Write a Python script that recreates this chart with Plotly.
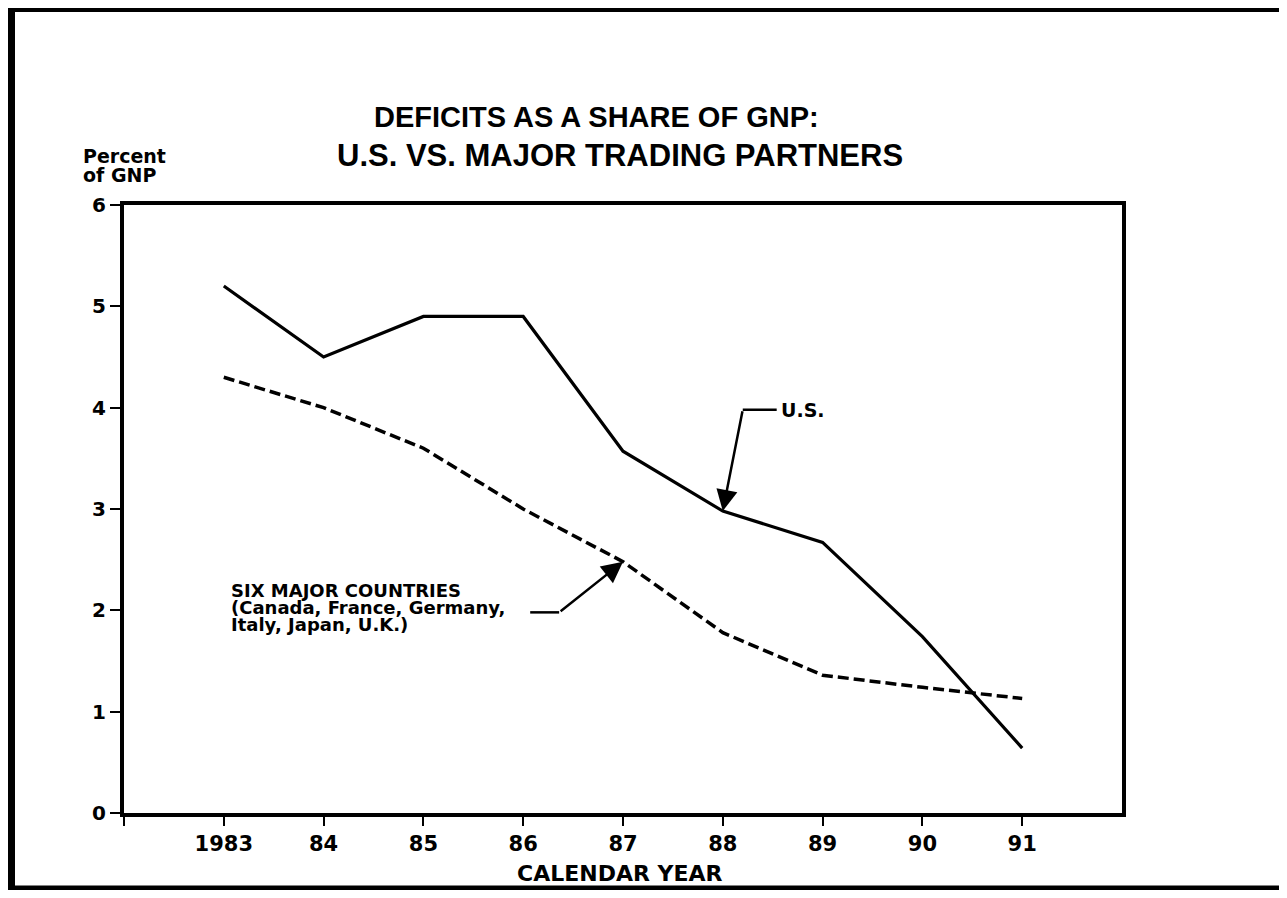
import plotly.graph_objects as go

# ---- data ----
years = [1983, 1984, 1985, 1986, 1987, 1988, 1989, 1990, 1991]
us_deficit = [5.2, 4.5, 4.9, 4.9, 3.57, 2.98, 2.67, 1.74, 0.64]
six_deficit = [4.3, 4.0, 3.6, 3.0, 2.48, 1.78, 1.36, 1.24, 1.13]
x_tickvals = [1982, 1983, 1984, 1985, 1986, 1987, 1988, 1989, 1990, 1991]
x_ticktext = ["", "1983", "84", "85", "86", "87", "88", "89", "90", "91"]
y_tickvals = [0, 1, 2, 3, 4, 5, 6]

# page has an 8px body margin; figure sized to fit the window
OFF = 8
W, H = 1287 - OFF, 898 - 2 * OFF
# plot area in screen pixels
L, R, T, B = 124, 1122, 205, 813


def px(x):
    return (x - L) / (R - L)


def py(y):
    return (B - y) / (B - T)


BOLD = "DejaVu Sans"

fig = go.Figure()
fig.add_trace(go.Scatter(x=years, y=us_deficit, mode="lines",
                         line=dict(color="black", width=3.2), name="U.S."))
fig.add_trace(go.Scatter(x=years, y=six_deficit, mode="lines",
                         line=dict(color="black", width=3.5, dash="11px,5px"),
                         name="Six major countries"))

ann = []
# titles
ann.append(dict(x=px(596), y=py(117), xref="paper", yref="paper", showarrow=False,
                text="DEFICITS AS A SHARE OF GNP:", xanchor="center", yanchor="middle",
                font=dict(family="Liberation Sans", size=29, color="black", weight="bold")))
ann.append(dict(x=px(620), y=py(155), xref="paper", yref="paper", showarrow=False,
                text="U.S. VS. MAJOR TRADING PARTNERS", xanchor="center", yanchor="middle",
                font=dict(family="Liberation Sans", size=31, color="black", weight="bold")))
ann.append(dict(x=px(81), y=py(156), xref="paper", yref="paper", showarrow=False,
                text="Percent", xanchor="left", yanchor="middle",
                font=dict(family=BOLD, size=19, color="black", weight="bold")))
ann.append(dict(x=px(81), y=py(175), xref="paper", yref="paper", showarrow=False,
                text="of GNP", xanchor="left", yanchor="middle",
                font=dict(family=BOLD, size=19, color="black", weight="bold")))
ann.append(dict(x=px(620), y=py(873), xref="paper", yref="paper", showarrow=False,
                text="CALENDAR YEAR", xanchor="center", yanchor="middle",
                font=dict(family=BOLD, size=22, color="black", weight="bold")))

# U.S. label and arrow
us_corner = (1988.2, 3.98)
ann.append(dict(x=years[5], y=us_deficit[5], xref="x", yref="y",
                ax=us_corner[0], ay=us_corner[1], axref="x", ayref="y",
                text="", showarrow=True, arrowhead=2, arrowsize=1.7,
                arrowwidth=2.5, arrowcolor="black", standoff=0))
ann.append(dict(x=1988.56, y=us_corner[1], xref="x", yref="y", showarrow=False,
                text="U.S.", xanchor="left", yanchor="middle",
                font=dict(family=BOLD, size=19, color="black", weight="bold")))

# Six major countries label and arrow
six_corner = (1986.36, 1.98)
ann.append(dict(x=years[4], y=six_deficit[4], xref="x", yref="y",
                ax=six_corner[0], ay=six_corner[1], axref="x", ayref="y",
                text="", showarrow=True, arrowhead=2, arrowsize=1.7,
                arrowwidth=2.5, arrowcolor="black", standoff=0))
six_lines = ["SIX MAJOR COUNTRIES", "(Canada, France, Germany,", "Italy, Japan, U.K.)"]
for txt, yy in zip(six_lines, [2.195, 2.03, 1.865]):
    ann.append(dict(x=1983.05, y=yy, xref="x", yref="y", showarrow=False,
                    text=txt, xanchor="left", yanchor="middle",
                    font=dict(family=BOLD, size=18, color="black", weight="bold")))

shapes = [
    # leader lines
    dict(type="line", xref="x", yref="y", x0=us_corner[0], x1=1988.54,
         y0=us_corner[1], y1=us_corner[1], line=dict(color="black", width=2.5)),
    dict(type="line", xref="x", yref="y", x0=1986.07, x1=six_corner[0],
         y0=six_corner[1], y1=six_corner[1], line=dict(color="black", width=2.5)),
    # outer frame
    dict(type="line", xref="paper", yref="paper", x0=px(11), x1=px(11),
         y0=py(6), y1=py(892), line=dict(color="black", width=8)),
    dict(type="line", xref="paper", yref="paper", x0=px(7), x1=px(1295),
         y0=py(9), y1=py(9), line=dict(color="black", width=6)),
    dict(type="line", xref="paper", yref="paper", x0=px(7), x1=px(1295),
         y0=py(889), y1=py(889), line=dict(color="black", width=7)),
]

fig.update_layout(
    width=W, height=H,
    margin=dict(l=L - OFF, r=W - (R - OFF), t=T - OFF, b=H - (B - OFF)),
    paper_bgcolor="white", plot_bgcolor="white",
    showlegend=False,
    annotations=ann, shapes=shapes,
    xaxis=dict(range=[1982, 1992], tickvals=x_tickvals, ticktext=x_ticktext,
               ticks="outside", ticklen=9, tickwidth=2, tickcolor="black",
               showline=True, linewidth=4, linecolor="black", mirror=True,
               showgrid=False, zeroline=False,
               tickfont=dict(family=BOLD, size=21, color="black", weight="bold")),
    yaxis=dict(range=[0, 6], tickvals=y_tickvals,
               ticks="outside", ticklen=10, tickwidth=2, tickcolor="black",
               showline=True, linewidth=4, linecolor="black", mirror=True,
               showgrid=False, zeroline=False,
               tickfont=dict(family=BOLD, size=20, color="black", weight="bold")),
)

fig.write_html("out.html")
